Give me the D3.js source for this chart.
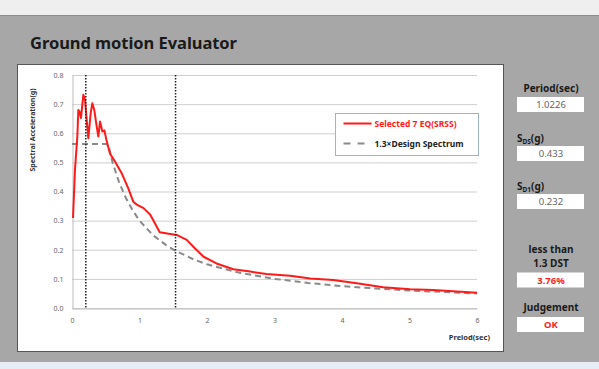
<!DOCTYPE html>
<html>
<head>
<meta charset="utf-8">
<script src="https://cdn.jsdelivr.net/npm/d3@7"></script>
<style>
  html, body { margin: 0; padding: 0; background: #eeeeee; }
  svg { display: block; font-family: "Noto Sans", "DejaVu Sans", sans-serif; }
</style>
</head>
<body>
<svg id="chart" width="599" height="369"></svg>
<script>
/*=================
=== Data
=================*/
const eqPeriods = [0.015, 0.044, 0.079, 0.094, 0.11, 0.133, 0.168, 0.193, 0.22, 0.242, 0.277, 0.301,
	0.33, 0.366, 0.39, 0.415, 0.45, 0.48, 0.51, 0.563, 0.637, 0.736, 0.834, 0.908, 0.96, 1.06, 1.16,
	1.30, 1.41, 1.55, 1.70, 1.82, 1.95, 2.14, 2.39, 2.64, 2.88, 3.23, 3.53, 3.87, 4.22, 4.61, 5.01, 5.35, 6.0];
const eqValues = [0.309, 0.474, 0.589, 0.68, 0.675, 0.652, 0.732, 0.715, 0.64, 0.583, 0.669, 0.703,
	0.68, 0.623, 0.589, 0.64, 0.606, 0.61, 0.577, 0.53, 0.503, 0.463, 0.411, 0.365, 0.355, 0.343, 0.32,
	0.26, 0.256, 0.251, 0.234, 0.205, 0.176, 0.153, 0.133, 0.125, 0.117, 0.111, 0.101, 0.096, 0.085, 0.071, 0.064, 0.062, 0.052];

const dsPeriods = [0, 0.1, 0.2, 0.3, 0.4, 0.5, 0.54, 0.6, 0.7, 0.8, 0.9, 1.0, 1.2, 1.4, 1.53, 1.8, 2.0,
	2.5, 3.0, 3.5, 4.0, 4.5, 5.0, 5.5, 6.0];
const dsValues = [0.563, 0.563, 0.563, 0.563, 0.563, 0.563, 0.56, 0.50, 0.43, 0.377, 0.335, 0.30, 0.25,
	0.215, 0.197, 0.167, 0.15, 0.12, 0.10, 0.086, 0.075, 0.067, 0.06, 0.055, 0.05];

const markerPeriods = [0.2045, 1.534]; // 0.2T and 1.5T
const xTicks = [0, 1, 2, 3, 4, 5, 6];
const yTicks = [0, 0.1, 0.2, 0.3, 0.4, 0.5, 0.6, 0.7, 0.8];
const legendLabels = ['Selected 7 EQ(SRSS)', '1.3×Design Spectrum'];

const sideLabels = ['Period(sec)', 'S_DS(g)', 'S_D1(g)', 'less than|1.3 DST', 'Judgement'];
const sideValues = ['1.0226', '0.433', '0.232', '3.76%', 'OK'];

/*=================
=== Frame
=================*/
const svg = d3.select('#chart');

svg.append('rect').attr('x', 0).attr('y', 0).attr('width', 599).attr('height', 369).attr('fill', '#efefef');
svg.append('rect').attr('x', 0).attr('y', 362).attr('width', 599).attr('height', 7).attr('fill', '#e6edf5');
svg.append('rect').attr('x', 0).attr('y', 15).attr('width', 599).attr('height', 347)
	.attr('fill', '#a7a7a7');
svg.append('line').attr('x1', 0).attr('x2', 599).attr('y1', 15.5).attr('y2', 15.5)
	.attr('stroke', '#8c8c8c');

svg.append('text')
	.attr('x', 30).attr('y', 49)
	.attr('font-size', 16.5).attr('font-weight', 'bold').attr('fill', '#1a1a1a')
	.attr('textLength', 207)
	.text('Ground motion Evaluator');

// white chart box
svg.append('rect').attr('x', 17.5).attr('y', 64.5).attr('width', 486).attr('height', 287)
	.attr('fill', '#ffffff').attr('stroke', '#555555').attr('stroke-width', 1);

/*=================
=== Scales
=================*/
const plot = { left: 72, right: 477, top: 75, bottom: 308 };

const x = d3.scaleLinear().domain([0, 6]).range([plot.left, plot.right]);
const y = d3.scaleLinear().domain([0, 0.8]).range([plot.bottom, plot.top]);

const g = svg.append('g');

// gridlines
g.selectAll('.grid')
	.data(yTicks)
	.enter()
	.append('line')
	.attr('class', 'grid')
	.attr('x1', plot.left).attr('x2', plot.right)
	.attr('y1', d => y(d) + 0.5).attr('y2', d => y(d) + 0.5)
	.attr('stroke', '#cfcfcf').attr('stroke-width', 1);

// y axis
const yAxis = g.append('g')
	.attr('transform', `translate(${plot.left + 0.5},0)`)
	.call(d3.axisLeft(y).tickValues(yTicks).tickFormat(d3.format('.1f')).tickSize(0).tickPadding(9));
yAxis.select('.domain').attr('stroke', '#bdbdbd');
yAxis.selectAll('text').attr('font-size', 7).attr('fill', '#666').attr('font-family', '"Noto Sans", sans-serif');

// x axis
const xAxis = g.append('g')
	.attr('transform', `translate(0,${plot.bottom + 0.5})`)
	.call(d3.axisBottom(x).tickValues(xTicks).tickFormat(d3.format('d')).tickSize(0).tickPadding(10));
xAxis.select('.domain').attr('stroke', '#bdbdbd');
xAxis.selectAll('text').attr('font-size', 7).attr('fill', '#666').attr('font-family', '"Noto Sans", sans-serif');

// axis titles
g.append('text')
	.attr('transform', 'translate(35,130) rotate(-90)')
	.attr('text-anchor', 'middle')
	.attr('font-size', 7).attr('font-weight', 'bold').attr('fill', '#333')
	.text('Spectral Acceleration(g)');

g.append('text')
	.attr('x', 490).attr('y', 340)
	.attr('text-anchor', 'end')
	.attr('font-size', 7.5).attr('font-weight', 'bold').attr('fill', '#333')
	.text('Preiod(sec)');

/*=================
=== Series
=================*/
const line = d3.line().x(d => x(d[0])).y(d => y(d[1]));

g.append('path')
	.datum(d3.zip(dsPeriods, dsValues))
	.attr('d', line)
	.attr('fill', 'none').attr('stroke', '#8a8a8a').attr('stroke-width', 2)
	.attr('stroke-dasharray', '6,4');

g.append('path')
	.datum(d3.zip(eqPeriods, eqValues))
	.attr('d', line)
	.attr('fill', 'none').attr('stroke', '#ff1a1a').attr('stroke-width', 2)
	.attr('stroke-linejoin', 'round');

g.selectAll('.marker')
	.data(markerPeriods)
	.enter()
	.append('line')
	.attr('class', 'marker')
	.attr('x1', d => x(d)).attr('x2', d => x(d))
	.attr('y1', y(0.8)).attr('y2', y(0))
	.attr('stroke', '#222').attr('stroke-width', 1.5)
	.attr('stroke-dasharray', '1.5,1.5');

/*=================
=== Legend
=================*/
const legend = g.append('g').attr('transform', 'translate(335.5,113.5)');
legend.append('rect').attr('width', 143).attr('height', 42)
	.attr('fill', '#fff').attr('stroke', '#9db4d0');
legend.append('line').attr('x1', 8).attr('x2', 36).attr('y1', 10).attr('y2', 10)
	.attr('stroke', '#ff1a1a').attr('stroke-width', 2);
legend.append('line').attr('x1', 8).attr('x2', 36).attr('y1', 30).attr('y2', 30)
	.attr('stroke', '#8a8a8a').attr('stroke-width', 2).attr('stroke-dasharray', '7,7');
legend.selectAll('.leg')
	.data(legendLabels)
	.enter()
	.append('text')
	.attr('x', 39).attr('y', (d, i) => 13 + i * 20)
	.attr('font-size', 8.5).attr('font-weight', 'bold')
	.attr('fill', (d, i) => i === 0 ? '#ff1a1a' : '#222')
	.text(d => d);

/*=================
=== Side panel
=================*/
const labelY = [92, 142, 190, 267, 311];
const boxY = [97, 146, 194, 272.5, 317];
const side = svg.append('g');

sideLabels.forEach((lab, i) => {
	if (lab.startsWith('S_')) {
		const t = side.append('text').attr('x', 517).attr('y', labelY[i])
			.attr('font-size', 10).attr('font-weight', 'bold').attr('fill', '#1a1a1a');
		t.append('tspan').text('S');
		t.append('tspan').attr('font-size', 6.5).attr('dy', 2).text(lab.slice(2, -3));
		t.append('tspan').attr('dy', -2).text('(g)');
	} else {
		lab.split('|').forEach((part, j, arr) => {
			side.append('text')
				.attr('x', 551).attr('y', labelY[i] - (arr.length - 1 - j) * 14.5)
				.attr('text-anchor', 'middle')
				.attr('font-size', 10).attr('font-weight', 'bold').attr('fill', '#1a1a1a')
				.text(part);
		});
	}
	side.append('rect').attr('x', 517).attr('y', boxY[i]).attr('width', 67).attr('height', 15)
		.attr('fill', '#ffffff');
	const red = i >= 3;
	side.append('text')
		.attr('x', 551).attr('y', boxY[i] + 11)
		.attr('text-anchor', 'middle')
		.attr('font-size', 9.5)
		.attr('font-weight', red ? 'bold' : 'normal')
		.attr('fill', red ? '#ff2020' : '#666')
		.text(sideValues[i]);
});
</script>
</body>
</html>
